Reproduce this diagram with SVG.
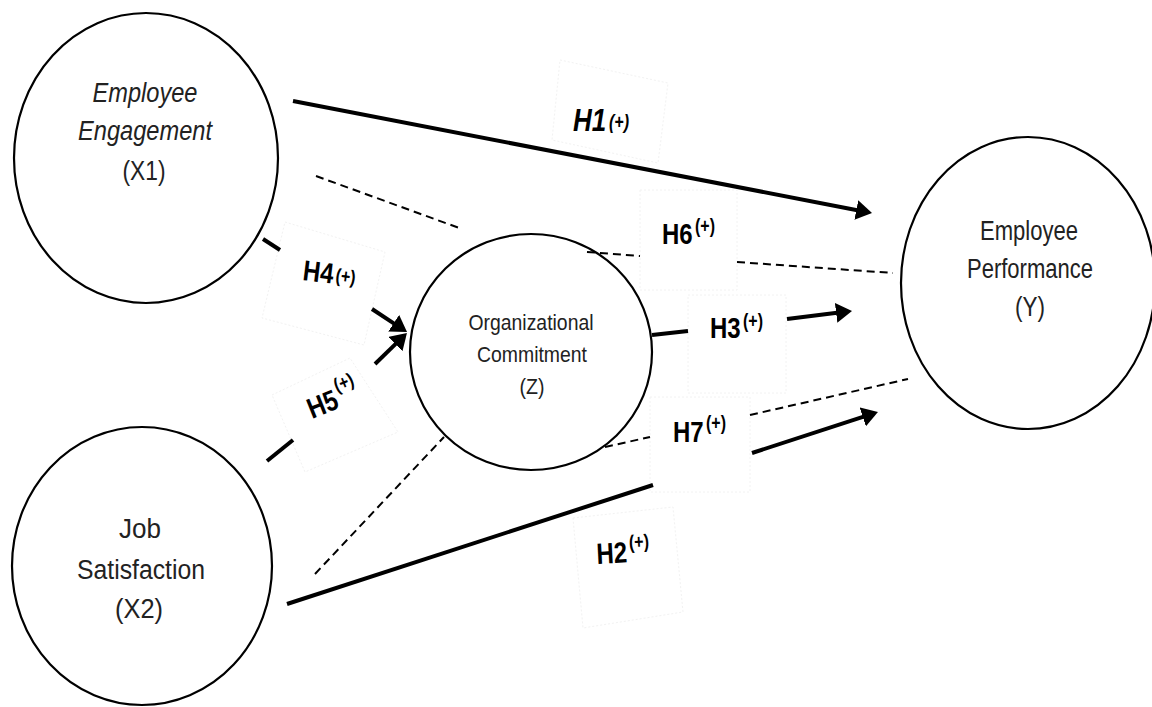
<svg xmlns="http://www.w3.org/2000/svg" width="1152" height="707" viewBox="0 0 1152 707">
<style>
.node{fill:none;stroke:#000;stroke-width:2.2}
.nt{font-family:"Liberation Sans",Arial,sans-serif;font-size:27px;fill:#222;text-anchor:middle}
.zt{font-size:22.5px}
.it{font-style:italic}
.lb{font-family:"Liberation Sans",Arial,sans-serif;font-weight:bold;fill:#000;font-size:24px}
.sup{font-family:"Liberation Sans",Arial,sans-serif;font-weight:bold;fill:#000;font-size:16px}
.solid{fill:none;stroke:#000;stroke-width:4}
.dash{fill:none;stroke:#000;stroke-width:2;stroke-dasharray:8 5}
.box{fill:none;stroke:#f2f2f2;stroke-width:1;stroke-dasharray:2 2}
</style>
<defs>
<marker id="ah" markerUnits="userSpaceOnUse" markerWidth="16" markerHeight="20" viewBox="0 0 16 20" refX="1" refY="10" orient="auto">
<path d="M0,0 L16,10 L0,20 z" fill="#000"/>
</marker>
</defs>
<rect width="1152" height="707" fill="#fff"/>
<g id="label-boxes">
<polygon class="box" points="560,60 668,83 658,163 552,140"/>
<polygon class="box" points="285,222 385,252 364,345 262,318"/>
<polygon class="box" points="272,395 350,358 398,432 305,472"/>
<rect class="box" x="640" y="190" width="97" height="100"/>
<rect class="box" x="688" y="295" width="98" height="98"/>
<rect class="box" x="650" y="397" width="100" height="95"/>
<polygon class="box" points="573,518 673,507 683,612 583,628"/>
</g>
<g id="connectors">
<line class="solid" x1="293" y1="101" x2="857.3" y2="210.2" marker-end="url(#ah)"/>
<line class="solid" x1="652" y1="335" x2="688" y2="331"/>
<line class="solid" x1="787" y1="319" x2="837.1" y2="312.8" marker-end="url(#ah)"/>
<line class="solid" x1="287" y1="604" x2="653" y2="485"/>
<line class="solid" x1="752" y1="453" x2="863.7" y2="416.6" marker-end="url(#ah)"/>
<line class="solid" x1="263" y1="239" x2="280" y2="250"/>
<line class="solid" x1="372" y1="309" x2="394.5" y2="323.8" marker-end="url(#ah)"/>
<line class="solid" x1="267" y1="461" x2="293" y2="440"/>
<line class="solid" x1="375" y1="364" x2="396.2" y2="343.4" marker-end="url(#ah)"/>
<line class="dash" x1="316" y1="176" x2="462" y2="229"/>
<line class="dash" x1="587" y1="252" x2="640" y2="256"/>
<line class="dash" x1="737" y1="262" x2="893" y2="273"/>
<line class="dash" x1="605" y1="447" x2="650" y2="437"/>
<line class="dash" x1="750" y1="415" x2="908" y2="379"/>
<line class="dash" x1="315" y1="574" x2="444" y2="437"/>
</g>
<g id="x1">
<ellipse class="node" cx="146" cy="158" rx="132" ry="145"/>
<text class="nt it" x="145" y="102" textLength="105" lengthAdjust="spacingAndGlyphs">Employee</text>
<text class="nt it" x="145" y="140" textLength="134" lengthAdjust="spacingAndGlyphs">Engagement</text>
<text class="nt" x="144" y="180" textLength="43" lengthAdjust="spacingAndGlyphs">(X1)</text>
</g>
<g id="x2">
<ellipse class="node" cx="142" cy="566" rx="130" ry="139"/>
<text class="nt" x="140" y="538" textLength="42" lengthAdjust="spacingAndGlyphs">Job</text>
<text class="nt" x="141" y="579" textLength="128" lengthAdjust="spacingAndGlyphs">Satisfaction</text>
<text class="nt" x="139" y="618" textLength="48" lengthAdjust="spacingAndGlyphs">(X2)</text>
</g>
<g id="z">
<ellipse class="node" cx="531" cy="352" rx="121" ry="118"/>
<text class="nt zt" x="531" y="330" textLength="125" lengthAdjust="spacingAndGlyphs">Organizational</text>
<text class="nt zt" x="532" y="362" textLength="110" lengthAdjust="spacingAndGlyphs">Commitment</text>
<text class="nt zt" x="532" y="394" textLength="25" lengthAdjust="spacingAndGlyphs">(Z)</text>
</g>
<g id="y">
<ellipse class="node" cx="1028" cy="283" rx="127" ry="146"/>
<text class="nt" x="1029" y="240" textLength="98" lengthAdjust="spacingAndGlyphs">Employee</text>
<text class="nt" x="1030" y="278" textLength="126" lengthAdjust="spacingAndGlyphs">Performance</text>
<text class="nt" x="1030" y="316" textLength="30" lengthAdjust="spacingAndGlyphs">(Y)</text>
</g>
<g id="h1" transform="translate(573,131) scale(1,1.22)">
<text class="lb it" x="0" y="0" style="font-size:26px">H1</text>
<text class="sup it" x="36" y="-2">(+)</text>
</g>
<g id="h4" transform="translate(302,280) rotate(7) scale(1,1.2)">
<text class="lb" x="0" y="0">H4</text>
<text class="sup" x="33" y="-2">(+)</text>
</g>
<g id="h5" transform="translate(312,419) rotate(-22) scale(1,1.2)">
<text class="lb" x="0" y="0">H5</text>
<text class="sup" x="33" y="-13">(+)</text>
</g>
<g id="h6" transform="translate(662,244) scale(1,1.22)">
<text class="lb" x="0" y="0">H6</text>
<text class="sup" x="33" y="-9">(+)</text>
</g>
<g id="h3" transform="translate(710,338) scale(1,1.22)">
<text class="lb" x="0" y="0">H3</text>
<text class="sup" x="33" y="-8">(+)</text>
</g>
<g id="h7" transform="translate(673,442) scale(1,1.22)">
<text class="lb" x="0" y="0">H7</text>
<text class="sup" x="33" y="-10">(+)</text>
</g>
<g id="h2" transform="translate(597,564) rotate(-3) scale(1,1.22)">
<text class="lb" x="0" y="0">H2</text>
<text class="sup" x="33" y="-11">(+)</text>
</g>
</svg>
